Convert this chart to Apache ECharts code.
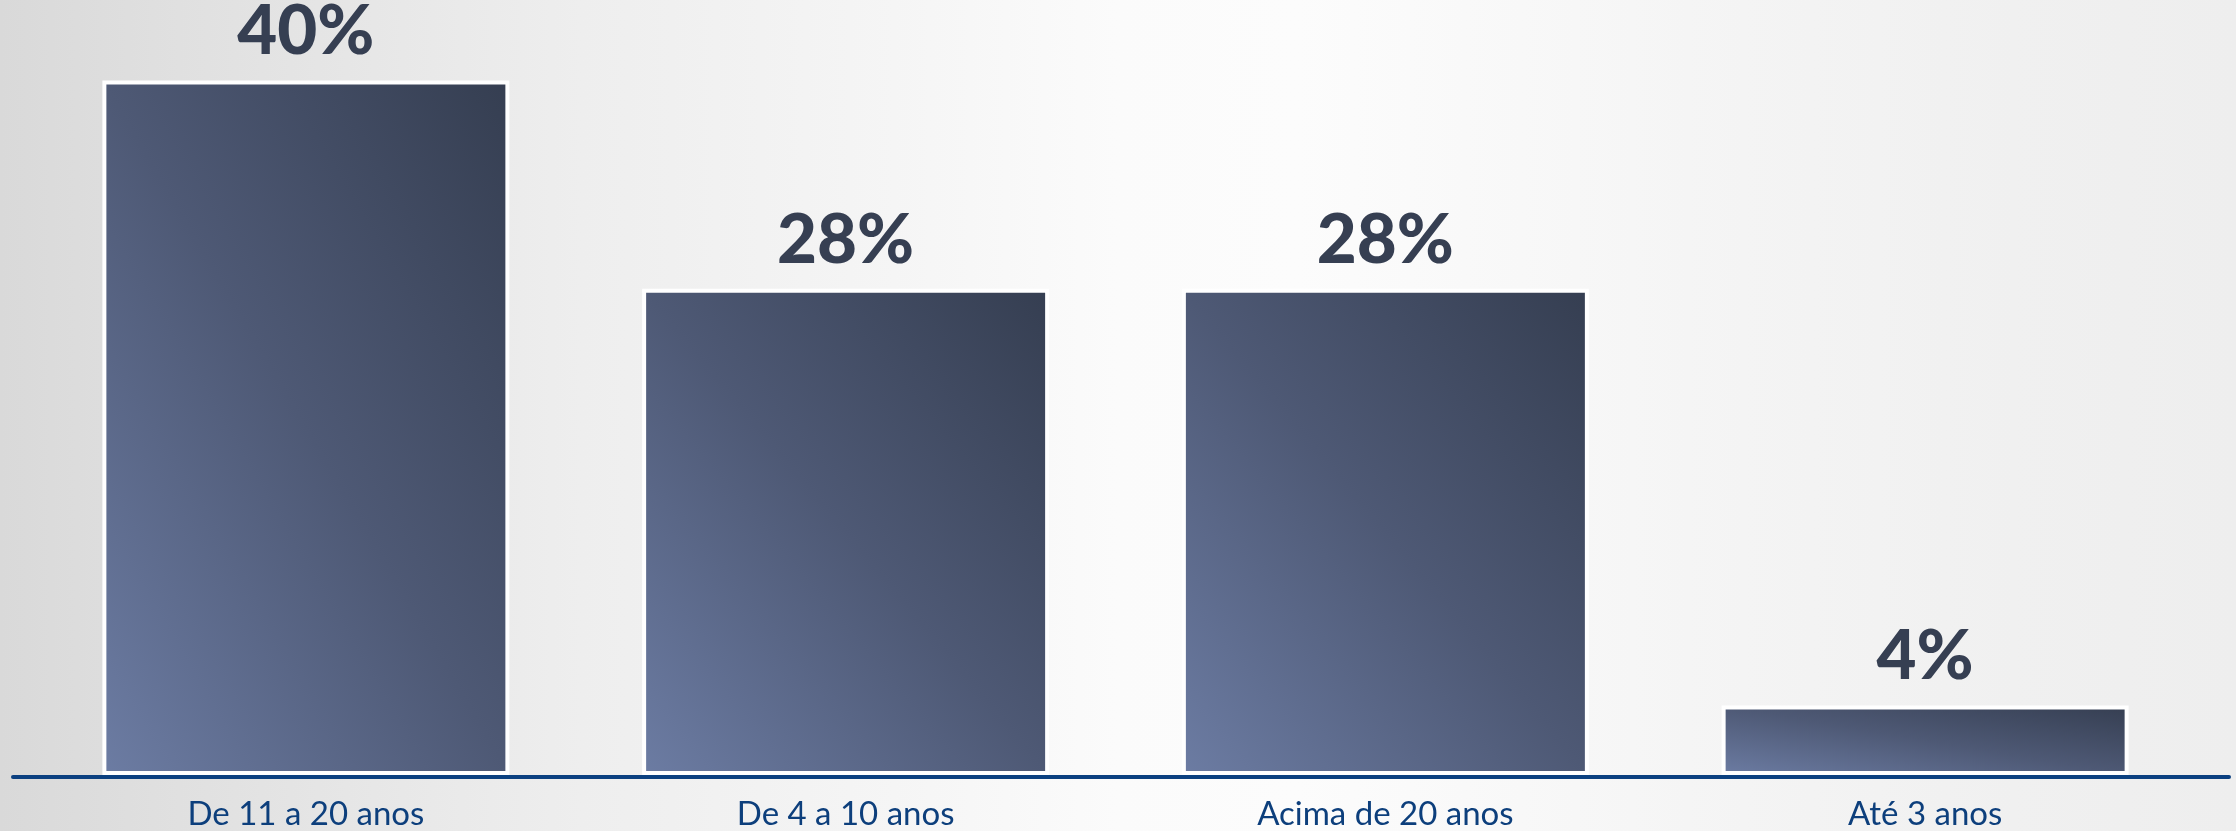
<!DOCTYPE html>
<html>
<head>
<meta charset="utf-8">
<script src="https://cdn.jsdelivr.net/npm/echarts@6/dist/echarts.min.js"></script>
<style>
html, body { margin: 0; padding: 0; width: 2236px; height: 831px; overflow: hidden; }
body {
  background: linear-gradient(to right, #d9d9d9 0%, #e0e0e0 8%, #e8e8e8 18%, #eeeeee 26%, #f5f5f5 40%, #fbfbfb 50%, #fcfcfc 58%, #f8f8f8 68%, #f4f4f4 78%, #f0f0f0 90%, #eeeeee 100%);
}
#chart { width: 2236px; height: 831px; }
</style>
</head>
<body>
<div id="chart"></div>
<script>
const categories = ['De 11 a 20 anos', 'De 4 a 10 anos', 'Acima de 20 anos', 'Até 3 anos'];
const values = [40, 28, 28, 4];

const BAR_WIDTH = 407;
const gradientStops = [
  { offset: 0, color: '#6c7ca3' },
  { offset: 0.5, color: '#4e5975' },
  { offset: 1, color: '#353e51' }
];

const chart = echarts.init(document.getElementById('chart'), null, { renderer: 'canvas' });

chart.setOption({
  backgroundColor: 'transparent',
  animation: false,
  grid: [
    { left: 36, right: 41, top: 11, bottom: 56 },
    { left: 13, right: 7, top: 11, bottom: 54 }
  ],
  xAxis: [
    {
      type: 'category',
      gridIndex: 0,
      data: categories,
      axisLine: { show: false },
      axisTick: { show: false },
      axisLabel: {
        margin: 23,
        fontSize: 33,
        fontFamily: 'Lato',
        color: '#0d3f7c'
      }
    },
    {
      type: 'category',
      gridIndex: 1,
      data: categories,
      axisTick: { show: false },
      axisLabel: { show: false },
      axisLine: { show: true, lineStyle: { color: '#0b4080', width: 4 } }
    }
  ],
  yAxis: [
    { type: 'value', gridIndex: 0, min: 0, max: 44, show: false },
    { type: 'value', gridIndex: 1, min: 0, max: 44, show: false }
  ],
  series: [
    {
      type: 'bar',
      xAxisIndex: 0,
      yAxisIndex: 0,
      data: values,
      barWidth: BAR_WIDTH,
      itemStyle: {
        color: '#4e5975',
        borderColor: '#ffffff',
        borderWidth: 4
      },
      label: {
        show: true,
        position: 'top',
        distance: 14,
        formatter: '{c}%',
        fontSize: 69,
        fontWeight: 900,
        fontFamily: 'Lato',
        color: '#363f52'
      }
    }
  ]
});

// Gradient stretched to each bar's box (bottom-left light -> top-right dark,
// isolines along the top-left/bottom-right diagonal).
const items = values.map(function (v, i) {
  const base = chart.convertToPixel({ seriesIndex: 0 }, [i, 0]);
  const top = chart.convertToPixel({ seriesIndex: 0 }, [i, v]);
  const h = Math.max(1, Math.abs(base[1] - top[1]));
  const w = BAR_WIDTH;
  const s = w * w + h * h;
  const x1 = 2 * h * h / s;
  const y1 = 1 - 2 * w * w / s;
  return {
    value: v,
    itemStyle: {
      color: new echarts.graphic.LinearGradient(0, 1, x1, y1, gradientStops)
    }
  };
});
chart.setOption({ series: [{ data: items }] });
</script>
</body>
</html>
